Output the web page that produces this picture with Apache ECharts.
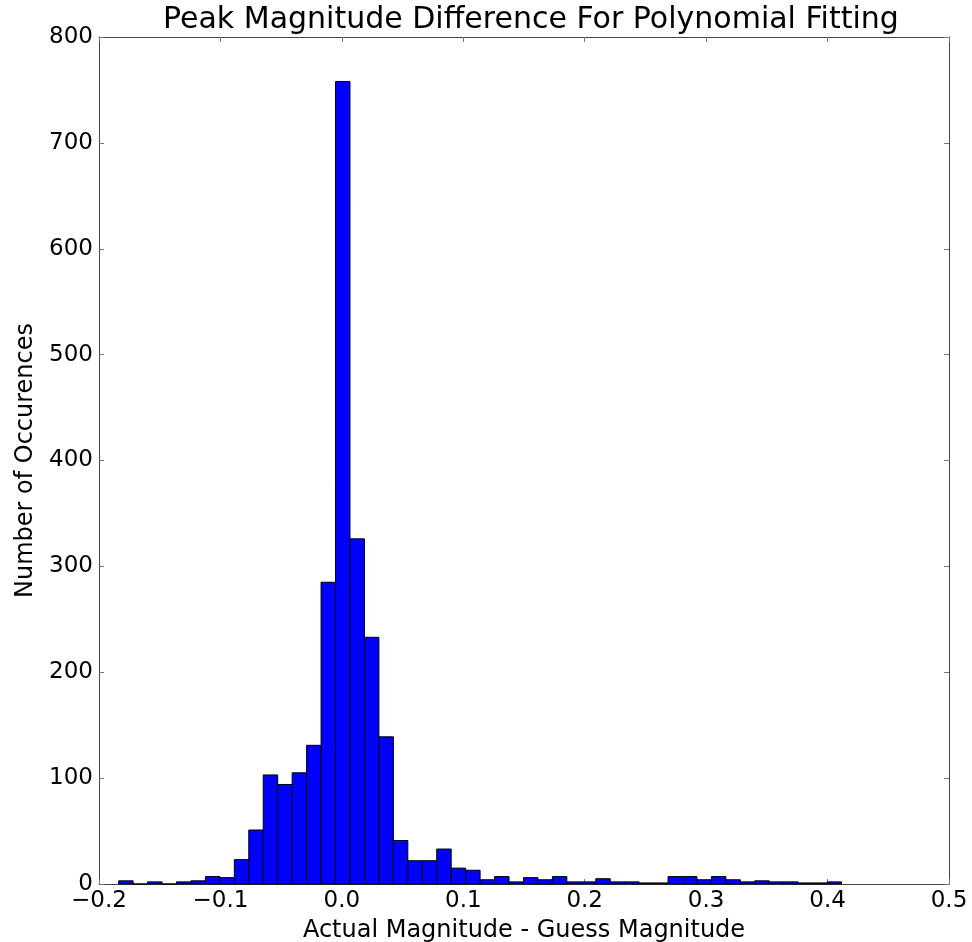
<!DOCTYPE html>
<html>
<head>
<meta charset="utf-8">
<title>Peak Magnitude Difference</title>
<script src="https://cdn.jsdelivr.net/npm/echarts@6/dist/echarts.min.js"></script>
<style>
    html, body { margin: 0; padding: 0; background: #fff; }
    #chart { width: 972px; height: 942px; }
</style>
</head>
<body>
<div id="chart"></div>
<script>
    // histogram: 50 bins between the min and max difference
    var binStart = -0.1838;
    var binWidth = 0.011906;
    var counts = [3, 0, 2, 0, 2, 3, 7, 6, 23, 51,
                  103, 94, 105, 131, 285, 758, 326, 233, 139, 41,
                  22, 22, 33, 15, 13, 4, 7, 2, 6, 4,
                  7, 2, 2, 5, 2, 2, 1, 1, 7, 7,
                  4, 7, 4, 2, 3, 2, 2, 1, 1, 2];
    var xTicks = [-0.2, -0.1, 0.0, 0.1, 0.2, 0.3, 0.4, 0.5];
    var yTicks = [0, 100, 200, 300, 400, 500, 600, 700, 800];

    var font = 'DejaVu Sans';
    var axisColor = '#444';

    // [left edge, right edge, count]
    var bins = counts.map(function (c, i) {
        return [binStart + i * binWidth, binStart + (i + 1) * binWidth, c];
    });

    var chart = echarts.init(document.getElementById('chart'));

    function fmtX(v) {
        return v.toFixed(1).replace('-', '\u2212');
    }

    var tickStyle = { show: true, inside: true, length: 5, lineStyle: { color: '#777', width: 1 } };
    var lineStyle = { show: true, onZero: false, lineStyle: { color: axisColor, width: 1 } };

    var option = {
        animation: false,
        backgroundColor: '#fff',
        title: {
            text: 'Peak Magnitude Difference For Polynomial Fitting',
            left: 158,
            top: 0,
            textStyle: { fontFamily: font, fontSize: 30, fontWeight: 'normal', color: '#000' }
        },
        grid: { left: 99, right: 23, top: 37, bottom: 58, containLabel: false, outerBoundsMode: 'none' },
        xAxis: [{
            type: 'value',
            min: xTicks[0],
            max: xTicks[xTicks.length - 1],
            interval: 0.1,
            name: 'Actual Magnitude - Guess Magnitude',
            nameLocation: 'middle',
            nameGap: 35,
            nameTextStyle: { fontFamily: font, fontSize: 24, color: '#000' },
            axisLine: lineStyle,
            axisTick: tickStyle,
            axisLabel: { fontFamily: font, fontSize: 23, color: '#000', margin: 6, formatter: fmtX },
            splitLine: { show: false }
        }, {
            type: 'value',
            position: 'top',
            min: xTicks[0],
            max: xTicks[xTicks.length - 1],
            interval: 0.1,
            axisLine: lineStyle,
            axisTick: tickStyle,
            axisLabel: { show: false },
            splitLine: { show: false }
        }],
        yAxis: [{
            type: 'value',
            min: yTicks[0],
            max: yTicks[yTicks.length - 1],
            interval: 100,
            name: 'Number of Occurences',
            nameLocation: 'middle',
            nameGap: 57,
            nameTextStyle: { fontFamily: font, fontSize: 24, color: '#000' },
            axisLine: lineStyle,
            axisTick: tickStyle,
            axisLabel: { fontFamily: font, fontSize: 23, color: '#000', margin: 6 },
            splitLine: { show: false }
        }, {
            type: 'value',
            position: 'right',
            min: yTicks[0],
            max: yTicks[yTicks.length - 1],
            interval: 100,
            axisLine: lineStyle,
            axisTick: tickStyle,
            axisLabel: { show: false },
            splitLine: { show: false }
        }],
        series: [{
            type: 'custom',
            xAxisIndex: 0,
            yAxisIndex: 0,
            data: bins,
            encode: { x: [0, 1], y: 2 },
            renderItem: function (params, api) {
                var p0 = api.coord([api.value(0), api.value(2)]);
                var p1 = api.coord([api.value(1), 0]);
                return {
                    type: 'rect',
                    shape: { x: p0[0], y: p0[1], width: p1[0] - p0[0], height: p1[1] - p0[1] },
                    style: { fill: '#0000ff', stroke: '#000', lineWidth: 1 }
                };
            }
        }]
    };

    chart.setOption(option);
</script>
</body>
</html>
